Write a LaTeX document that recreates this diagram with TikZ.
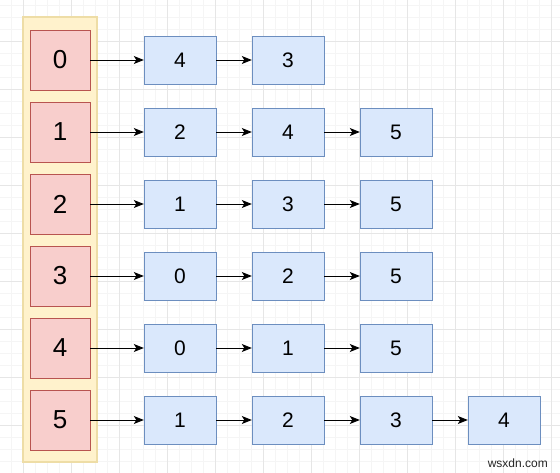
\documentclass[tikz,border=0pt]{standalone}
\usepackage{fontspec}
\setmainfont{Liberation Sans}
\usetikzlibrary{arrows.meta}

\definecolor{headfill}{HTML}{F8CECC}
\definecolor{headline}{HTML}{B85450}
\definecolor{listfill}{HTML}{DAE8FC}
\definecolor{listline}{HTML}{6C8EBF}
\definecolor{arrfill}{HTML}{FFF2CC}
\definecolor{arrline}{HTML}{EEDDA6}
\definecolor{gridmajor}{HTML}{E6E6E6}
\definecolor{gridminor}{HTML}{F5F5F5}

\begin{document}
\begin{tikzpicture}[x=1pt, y=-1pt,
		head/.style={draw=headline, fill=headfill, minimum width=60pt, minimum height=60pt, inner sep=0pt, font=\fontsize{26}{26}\selectfont},
		item/.style={draw=listline, fill=listfill, minimum width=72pt, minimum height=48pt, inner sep=0pt, font=\fontsize{21}{21}\selectfont},
		link/.style={-{Stealth[length=10pt, width=8pt, inset=2.5pt]}, line width=0.9pt}]
			\useasboundingbox (0,0) rectangle (560,473);
			
			% Background grid
			\fill[white] (0,0) rectangle (560,473);
			\begin{scope}[shift={(11,5.5)}]
				\draw[gridminor, line width=0.8pt, step=12pt] (-12,-12) grid (552,470);
			\end{scope}
			\begin{scope}[shift={(23,41.5)}]
				\draw[gridmajor, line width=0.8pt, step=48pt] (-48,-48) grid (540,434);
			\end{scope}
			
			% Array of vertices
			\draw[arrline, fill=arrfill, line width=1.2pt] (23,17) rectangle (97,462);
			\node[head] (v0) at (60,60) {0};
			\node[head] (v1) at (60,132) {1};
			\node[head] (v2) at (60,204) {2};
			\node[head] (v3) at (60,276) {3};
			\node[head] (v4) at (60,348) {4};
			\node[head] (v5) at (60,420) {5};
			
			% Adjacency lists
			\node[item] (a0) at (180,60) {4};
			\node[item] (b0) at (288,60) {3};
			
			\node[item] (a1) at (180,132) {2};
			\node[item] (b1) at (288,132) {4};
			\node[item] (c1) at (396,132) {5};
			
			\node[item] (a2) at (180,204) {1};
			\node[item] (b2) at (288,204) {3};
			\node[item] (c2) at (396,204) {5};
			
			\node[item] (a3) at (180,276) {0};
			\node[item] (b3) at (288,276) {2};
			\node[item] (c3) at (396,276) {5};
			
			\node[item] (a4) at (180,348) {0};
			\node[item] (b4) at (288,348) {1};
			\node[item] (c4) at (396,348) {5};
			
			\node[item] (a5) at (180,420) {1};
			\node[item] (b5) at (288,420) {2};
			\node[item] (c5) at (396,420) {3};
			\node[item] (d5) at (504,420) {4};
			
			% Links
			\draw[link] (v0) -- (a0);
			\draw[link] (a0) -- (b0);
			\draw[link] (v1) -- (a1);
			\draw[link] (a1) -- (b1);
			\draw[link] (b1) -- (c1);
			\draw[link] (v2) -- (a2);
			\draw[link] (a2) -- (b2);
			\draw[link] (b2) -- (c2);
			\draw[link] (v3) -- (a3);
			\draw[link] (a3) -- (b3);
			\draw[link] (b3) -- (c3);
			\draw[link] (v4) -- (a4);
			\draw[link] (a4) -- (b4);
			\draw[link] (b4) -- (c4);
			\draw[link] (v5) -- (a5);
			\draw[link] (a5) -- (b5);
			\draw[link] (b5) -- (c5);
			\draw[link] (c5) -- (d5);
			
			% Watermark
			\node[font=\fontsize{12}{12}\selectfont, text=black!85, anchor=base east, inner sep=0pt] (mark) at (548,467) {wsxdn.com};
		\end{tikzpicture}
\end{document}
